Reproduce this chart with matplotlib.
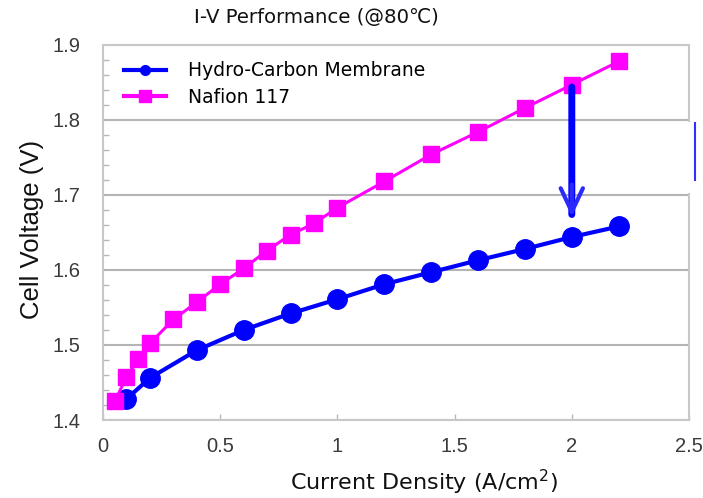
import matplotlib
matplotlib.use("Agg")
import matplotlib.pyplot as plt
from matplotlib.lines import Line2D
from matplotlib.patches import Rectangle

# ---- data ----
x_hc = [0.1, 0.2, 0.4, 0.6, 0.8, 1.0, 1.2, 1.4, 1.6, 1.8, 2.0, 2.2]
v_hc = [1.428, 1.456, 1.493, 1.520, 1.542, 1.561, 1.581, 1.597, 1.613, 1.628, 1.644, 1.658]
x_naf = [0.05, 0.1, 0.15, 0.2, 0.3, 0.4, 0.5, 0.6, 0.7, 0.8, 0.9, 1.0, 1.2, 1.4, 1.6, 1.8, 2.0, 2.2]
v_naf = [1.425, 1.457, 1.481, 1.502, 1.534, 1.557, 1.581, 1.602, 1.626, 1.647, 1.662, 1.683,
         1.718, 1.754, 1.784, 1.816, 1.847, 1.878]
series_labels = ["Hydro-Carbon Membrane", "Nafion 117"]
x_ticks = [0, 0.5, 1, 1.5, 2, 2.5]
x_ticklabels = ["0", "0.5", "1", "1.5", "2", "2.5"]
y_ticks = [1.4, 1.5, 1.6, 1.7, 1.8, 1.9]
y_ticklabels = ["1.4", "1.5", "1.6", "1.7", "1.8", "1.9"]
title = "I-V Performance (@80℃)"
xlabel = "Current Density (A/cm$^2$)"
ylabel = "Cell Voltage (V)"
arrow_x = 2.0

BLUE = "#0000ff"
MAG = "#ff00ff"
W, H = 703, 498

fig = plt.figure(figsize=(W / 100, H / 100), dpi=100)
ax = fig.add_axes([103 / W, 1 - 420 / H, 586 / W, 375 / H])

ax.plot(x_hc, v_hc, color=BLUE, lw=3, marker="o", ms=14, zorder=3)
ax.plot(x_naf, v_naf, color=MAG, lw=2.2, marker="s", ms=11, zorder=4)

# arrow from Nafion to Hydro-Carbon at x=2.0
y_top = v_naf[x_naf.index(arrow_x)]
y_bot = v_hc[x_hc.index(arrow_x)]
ax.annotate("", xy=(arrow_x, y_bot + 0.03), xytext=(arrow_x, y_top - 0.003),
            arrowprops=dict(arrowstyle="-", lw=5, color=BLUE, shrinkA=0, shrinkB=0), zorder=6)
ax.annotate("", xy=(arrow_x, y_bot + 0.027), xytext=(arrow_x, y_bot + 0.07),
            arrowprops=dict(arrowstyle="->,head_length=0.85,head_width=0.4", lw=3,
                            mutation_scale=20, color="#2a2aff", shrinkA=0, shrinkB=0),
            zorder=6)

ax.set_xlim(0, 2.5)
ax.set_ylim(1.4, 1.9)
ax.set_xticks(x_ticks)
ax.set_xticklabels(x_ticklabels)
ax.set_yticks(y_ticks)
ax.set_yticklabels(y_ticklabels)
ax.set_yticks([1.4 + 0.02 * i for i in range(26) if i % 5], minor=True)

for lab in ax.get_xticklabels() + ax.get_yticklabels():
    lab.set_fontfamily(["Liberation Sans", "DejaVu Sans"])
    lab.set_fontsize(14.5)
    lab.set_color("#3a3a3a")

ax.tick_params(axis="x", which="major", direction="in", length=4, width=1, color="#b8b8b8", pad=12)
ax.tick_params(axis="y", which="major", direction="in", length=0, pad=16)
ax.tick_params(axis="y", which="minor", direction="in", length=4, width=1, color="#b8b8b8")

ax.grid(True, axis="y", which="major", color="#b4b4b4", lw=1.5)
ax.set_axisbelow(True)
for s in ax.spines.values():
    s.set_color("#c8c8c8")
    s.set_linewidth(1.5)

# white patch artifact on the right edge (above spine, below data)
ax.add_patch(Rectangle((440 / W, 1 - 193 / H), 262 / W, 71 / H,
                       transform=fig.transFigure, facecolor="white",
                       edgecolor="none", zorder=2.8, clip_on=False))
ax.add_line(Line2D([695 / W, 695 / W], [1 - 123 / H, 1 - 180 / H],
                   transform=fig.transFigure, color="#3030ff", lw=1.5, clip_on=False, zorder=3))

handles = [Line2D([], [], color=BLUE, lw=3, marker="o", ms=7),
           Line2D([], [], color=MAG, lw=3, marker="s", ms=8)]
leg = ax.legend(handles, series_labels, loc="center left",
                bbox_to_anchor=((124 - 103) / 586, (420 - 84) / 375),
                frameon=False, handlelength=2.25, handletextpad=1.15,
                labelspacing=0.4, borderpad=0, borderaxespad=0,
                prop=dict(family="DejaVu Sans", size=13.5))

fig.text(316 / W, 1 - 18 / H, title, ha="center", va="center", fontsize=14.2,
         family=["DejaVu Sans", "Noto Sans CJK JP"], color="#111111")
fig.text(32 / W, 1 - 229 / H, ylabel, ha="center", va="center", rotation=90,
         fontsize=18.5, family=["Liberation Sans", "DejaVu Sans"], color="#111111")
fig.text(424 / W, 1 - 482 / H, xlabel, ha="center", va="center", fontsize=16,
         family=["DejaVu Sans"], color="#111111")

fig.savefig("out.png", dpi=100)
